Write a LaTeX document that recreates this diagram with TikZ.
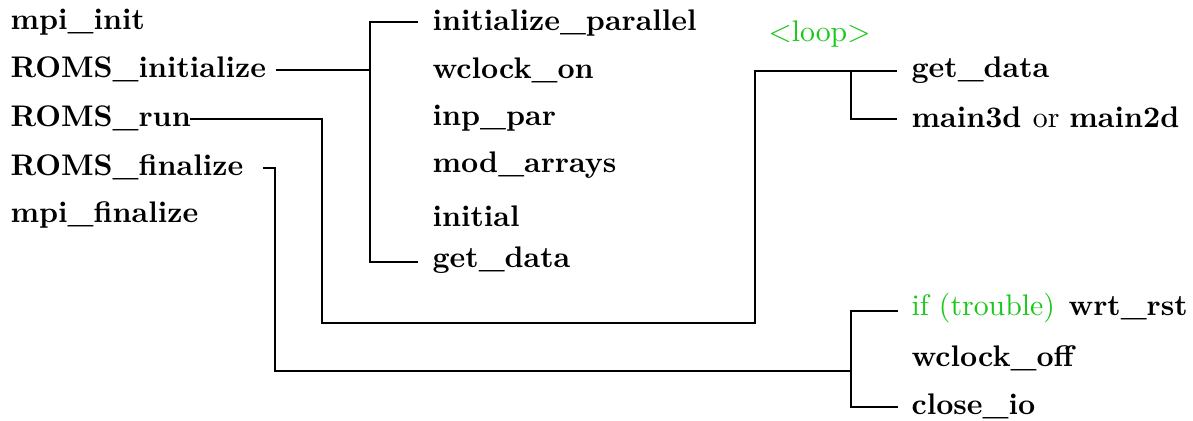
\documentclass[tikz,border=0pt]{standalone}
\usetikzlibrary{calc}
\definecolor{loopgreen}{RGB}{25,200,25}
\tikzset{
  lbl/.style={anchor=base west, inner sep=0pt, font=\bfseries},
  glbl/.style={anchor=base west, inner sep=0pt, text=loopgreen},
  conn/.style={draw=black, line width=0.34pt}
}
\begin{document}
\begin{tikzpicture}[x=0.3356pt, y=-0.3356pt]
\useasboundingbox (0,0) rectangle (1193,421);
% left column
\node[lbl] (mi) at (10,30)  {mpi\_init};
\node[lbl] (ri) at (10,78)  {ROMS\_initialize};
\node[lbl] (rr) at (10,127) {ROMS\_run};
\node[lbl] (rf) at (10,176) {ROMS\_finalize};
\node[lbl] (mf) at (10,223) {mpi\_finalize};
% initialize column
\node[lbl] (ip) at (432,31)  {initialize\_parallel};
\node[lbl] (wo) at (432,79)  {wclock\_on};
\node[lbl] (np) at (432,126) {inp\_par};
\node[lbl] (ma) at (432,173) {mod\_arrays};
\node[lbl] (in) at (432,227) {initial};
\node[lbl] (ga) at (432,268) {get\_data};
% run column
\node[glbl] (lp) at (768,42) {$<$loop$>$};
\node[lbl] (gb) at (911,78)  {get\_data};
\node[lbl] (mn) at (911,128) {main3d \mdseries or \bfseries main2d};
% finalize column
\node[glbl] (tr) at (911,316) {if (trouble)};
\node[lbl] (wr) at (1068,316) {wrt\_rst};
\node[lbl] (wf) at (911,367) {wclock\_off};
\node[lbl] (ci) at (911,415) {close\_io};
% junctions
\coordinate (jI) at (370,70);
\coordinate (rA) at (322,119);
\coordinate (rB) at (322,323);
\coordinate (rC) at (755,323);
\coordinate (jL) at (851,71);
\coordinate (fA) at (275,168);
\coordinate (fB) at (275,371);
\coordinate (jF) at (851,371);
% ROMS_initialize
\draw[conn] ($(ri.base east)+(9,-8)$) -- (jI);
\draw[conn] ($(ip.base west)+(-14,-9)$) -| (jI) |- ($(ga.base west)+(-14,-6)$);
% ROMS_run
\draw[conn] ($(rr.base east)+(-1,-8)$) -- (rA) -- (rB) -- (rC) |- ($(gb.base west)+(-14,-7)$);
\draw[conn] (jL) |- ($(mn.base west)+(-14,-9)$);
% ROMS_finalize
\draw[conn] ($(rf.base east)+(19,-8)$) -- (fA) -- (fB) -- (jF);
\draw[conn] ($(tr.base west)+(-13,-5)$) -| (jF) |- ($(ci.base west)+(-13,-8)$);
\end{tikzpicture}
\end{document}
